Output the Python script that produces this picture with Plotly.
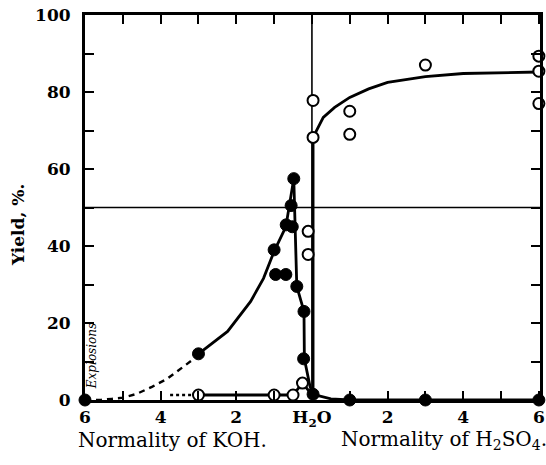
import plotly.graph_objects as go

# ---- data (x: negative = normality of KOH, positive = normality of H2SO4) ----
filled_x = [-6, -3.0, -1.0, -0.96, -0.69, -0.68, -0.52, -0.55, -0.48, -0.4, -0.21, -0.22, 0.03, 1.0, 3.0, 6.0]
filled_y = [0, 12, 39, 32.6, 32.6, 45.5, 45, 50.5, 57.5, 29.5, 23, 10.7, 1.5, 0, 0, 0]

open_x = [-3.0, -1.0, -0.5, -0.25, -0.1, -0.1, 0.03, 0.03, 1.0, 1.0, 3.0, 6.0, 6.0, 6.0]
open_y = [1.3, 1.3, 1.3, 4.4, 37.8, 43.8, 68.2, 77.8, 69, 75, 87, 89.3, 85.4, 77]

# fitted curves as drawn in the figure
koh_dash_x = [-6.0, -5.56, -5.29, -5.0, -4.63, -4.23, -3.83, -3.48, -3.16, -3.0]
koh_dash_y = [0, 0.05, 0.3, 0.6, 1.6, 3.4, 5.5, 8.1, 10.4, 12]
koh_rise_x = [-3.0, -2.23, -1.62, -1.28, -1.0, -0.69, -0.48]
koh_rise_y = [12, 17.8, 25.6, 31.6, 38.6, 45, 57.5]
koh_fall_x = [-0.48, -0.4, -0.21, -0.2, -0.05, 0.03, 0.5, 1.0, 3.0, 6.0]
koh_fall_y = [57.5, 29.5, 23, 10.7, 3.5, 1.5, 0.3, 0, 0, 0]

open_lead_x = [-3.75, -3.0]
open_lead_y = [1.3, 1.3]
open_curve_x = [-3.0, -1.0, -0.5, -0.25, 0.03, 0.03, 0.3, 0.6, 1.0, 1.5, 2.0, 3.0, 4.0, 6.0]
open_curve_y = [1.3, 1.3, 1.3, 4.4, 1.0, 68.2, 73.4, 76, 78.6, 80.8, 82.5, 84, 84.8, 85.2]

tick_vals = [-6, -4, -2, 0, 2, 4, 6]
tick_text = ["6", "4", "2", "H<sub>2</sub>O", "2", "4", "6"]
x_minor_vals = [-5, -3, -1, 1, 3, 5]
x_all_vals = [-6, -5, -4, -3, -2, -1, 0, 1, 2, 3, 4, 5, 6]
y_ticks = [0, 20, 40, 60, 80, 100]
y_minor_vals = [10, 30, 50, 70, 90]
y_all_vals = [0, 10, 20, 30, 40, 50, 60, 70, 80, 90, 100]

SERIF = "DejaVu Serif"
LW = 2.8
X_RANGE = [-6, 6.03]
Y_RANGE = [0, 100]

W, H = 546, 465
ML, MR, MT, MB = 85, 6, 15, 65
PW, PH = W - ML - MR, H - MT - MB


def px_x(px):
    return (px - ML) / PW


def px_y(py):
    return 1 - (py - MT) / PH


fig = go.Figure()


def line(x, y, dash="solid", width=LW):
    fig.add_trace(go.Scatter(x=x, y=y, mode="lines", line=dict(color="black", width=width, dash=dash),
                             showlegend=False, hoverinfo="skip", cliponaxis=False))


line(koh_dash_x, koh_dash_y, dash="6px,5px", width=2.4)
line(koh_rise_x, koh_rise_y)
line(koh_fall_x, koh_fall_y)
line(open_lead_x, open_lead_y, dash="3px,3px", width=2.4)
line(open_curve_x, open_curve_y)

fig.add_trace(go.Scatter(x=filled_x, y=filled_y, mode="markers",
                         marker=dict(symbol="circle", size=12, color="black", line=dict(color="black", width=1)),
                         showlegend=False, cliponaxis=False))
fig.add_trace(go.Scatter(x=open_x, y=open_y, mode="markers",
                         marker=dict(symbol="circle", size=11, color="white", line=dict(color="black", width=2)),
                         showlegend=False, cliponaxis=False))

# invisible copy on the top/right axes so their inward ticks are drawn
fig.add_trace(go.Scatter(x=filled_x, y=filled_y, xaxis="x2", yaxis="y2", mode="markers",
                         marker=dict(opacity=0), showlegend=False, hoverinfo="skip"))

# divider lines
fig.add_shape(type="line", xref="x", yref="paper", x0=0, x1=0, y0=0, y1=1,
              line=dict(color="black", width=1.6), layer="below")
fig.add_shape(type="line", xref="paper", yref="y", x0=0, x1=1, y0=50, y1=50,
              line=dict(color="black", width=1.6), layer="below")

fig.add_annotation(x=-5.83, y=11.5, xref="x", yref="y", text="<i>Explosions</i>", textangle=-90,
                   showarrow=False, font=dict(family=SERIF, size=12, color="black"))

fig.add_annotation(x=px_x(172), y=px_y(440), xref="paper", yref="paper", text="Normality of KOH.",
                   showarrow=False, xanchor="center", yanchor="middle",
                   font=dict(family=SERIF, size=20, color="black"))
fig.add_annotation(x=px_x(444), y=px_y(440), xref="paper", yref="paper",
                   text="Normality of H<sub>2</sub>SO<sub>4</sub>.",
                   showarrow=False, xanchor="center", yanchor="middle",
                   font=dict(family=SERIF, size=20, color="black"))
fig.add_annotation(x=px_x(18), y=px_y(225), xref="paper", yref="paper", text="Yield, %.",
                   textangle=-90, showarrow=False, xanchor="center", yanchor="middle",
                   font=dict(family=SERIF, size=17, color="black", weight="bold"))

tick_style = dict(ticks="inside", ticklen=9, tickwidth=2.2, tickcolor="black")

fig.update_layout(
    width=W, height=H,
    margin=dict(l=ML, r=MR, t=MT, b=MB, autoexpand=False),
    paper_bgcolor="white", plot_bgcolor="white",
    xaxis=dict(range=X_RANGE, tickmode="array", tickvals=tick_vals, ticktext=tick_text, automargin=False,
               minor=dict(tickmode="array", tickvals=x_minor_vals, **tick_style), **tick_style,
               showline=True, linewidth=3, linecolor="black", mirror=True,
               showgrid=False, zeroline=False,
               tickfont=dict(family=SERIF, size=17, color="black", weight="bold"), ticklabelstandoff=0),
    yaxis=dict(range=Y_RANGE, tickmode="array", tickvals=y_ticks, automargin=False,
               minor=dict(tickmode="array", tickvals=y_minor_vals, **tick_style), **tick_style,
               showline=True, linewidth=3, linecolor="black", mirror=True,
               showgrid=False, zeroline=False,
               tickfont=dict(family=SERIF, size=17, color="black", weight="bold"), ticklabelstandoff=8),
    xaxis2=dict(range=X_RANGE, overlaying="x", side="top", anchor="y2", automargin=False,
                tickmode="array", tickvals=x_all_vals, showticklabels=False, showgrid=False,
                zeroline=False, showline=False, **tick_style),
    yaxis2=dict(range=Y_RANGE, overlaying="y", side="right", anchor="x2", automargin=False,
                tickmode="array", tickvals=y_all_vals, showticklabels=False, showgrid=False,
                zeroline=False, showline=False, **tick_style),
)

fig.write_html("out.html", config={"displayModeBar": False},
               post_script="document.body.style.margin='0px';document.body.style.overflow='hidden';")
